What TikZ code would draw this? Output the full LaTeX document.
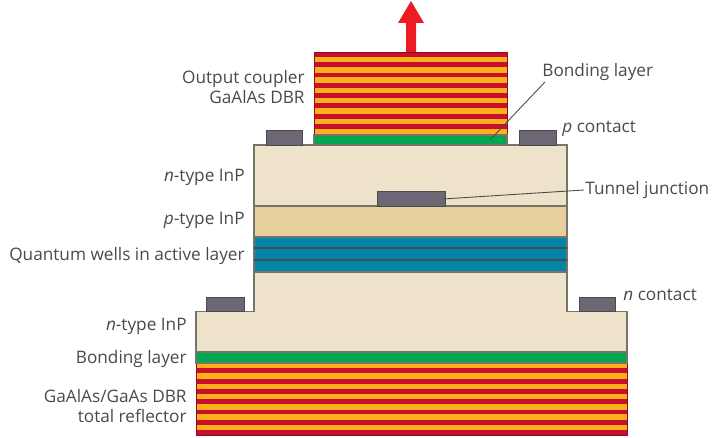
\documentclass[tikz,border=0pt]{standalone}
\usepackage{fontspec}
\setmainfont{Open Sans}
\usepackage{xcolor}
\definecolor{C0}{HTML}{FDB018}
\definecolor{C1}{HTML}{C8102E}
\definecolor{C2}{HTML}{00A651}
\definecolor{C3}{HTML}{0085A8}
\definecolor{C4}{HTML}{EEE2CB}
\definecolor{C5}{HTML}{E5CF9B}
\definecolor{C6}{HTML}{6D6674}
\definecolor{C7}{HTML}{77746A}
\definecolor{C8}{HTML}{4A4A4A}
\definecolor{C9}{HTML}{ED1C24}
\tikzset{
  layer/.style={draw=C7, line width=0.6pt},
  contact/.style={fill=C6, draw=C8, line width=0.5pt},
  lbl/.style={text=C8, font=\fontsize{9.8}{11.2}\selectfont, inner sep=0pt},
  leader/.style={C8, line width=0.5pt}
}
\begin{document}
\begin{tikzpicture}[x=0.02cm,y=-0.02cm]
\useasboundingbox (0,0) rectangle (720,438);
% output beam
\fill[C9] (406,52)--(406,23)--(398,23)--(411,1)--(424,23)--(416,23)--(416,52)--cycle;
% top mirror
\fill[C0] (314,52) rectangle (507,135);
\foreach \y in {52,62.3,...,130} \fill[C1] (314,\y) rectangle (507,\y+4.8);
\fill[C2] (314,135) rectangle (507,145);
\draw[C1!70!black, line width=0.5pt] (314,52) rectangle (507,135);
\draw[layer] (314,135) rectangle (507,145);
% middle layers
\draw[layer, fill=C4] (254,145) rectangle (567,206);
\draw[layer, fill=C5] (254,206) rectangle (567,237);
\draw[layer, fill=C3] (254,237) rectangle (567,272);
\draw[C8, line width=0.8pt] (254,248)--(567,248);
\draw[C8, line width=0.8pt] (254,260)--(567,260);
% lower n-type block
\draw[layer, fill=C4] (196,352)--(196,311.5)--(254,311.5)--(254,272)--(567,272)--(567,311.5)--(627,311.5)--(627,352)--cycle;
% bottom mirror
\fill[C2] (196,352) rectangle (627,363);
\fill[C0] (196,363) rectangle (627,435);
\foreach \y in {368.5,378.8,...,431} \fill[C1] (196,\y) rectangle (627,\y+4.8);
\draw[C1!70!black, line width=0.5pt] (196,363) rectangle (627,435);
\draw[layer] (196,352) rectangle (627,363);
% contacts
\draw[contact] (266,130) rectangle (302,145);
\draw[contact] (519,130) rectangle (556,145);
\draw[contact] (377,191) rectangle (445,206);
\draw[contact] (206,297) rectangle (244,311.5);
\draw[contact] (579,297) rectangle (615,311.5);
% labels
\node[lbl, anchor=east, align=right] (coupler) at (305,87) {Output coupler\\GaAlAs DBR};
\node[lbl, anchor=east] (ninp) at (245,177) {\textit{n}-type InP};
\node[lbl, anchor=east] (pinp) at (245,220) {\textit{p}-type InP};
\node[lbl, anchor=east] (wells) at (245,256) {Quantum wells in active layer};
\node[lbl, anchor=east] (ninplow) at (187,326) {\textit{n}-type InP};
\node[lbl, anchor=east] (bondlow) at (187,359) {Bonding layer};
\node[lbl, anchor=east, align=right] (reflector) at (187,406) {GaAlAs/GaAs DBR\\total reflector};
\node[lbl, anchor=west] (bondtop) at (542,72) {Bonding layer};
\node[lbl, anchor=west] (pcontact) at (562,129) {\textit{p} contact};
\node[lbl, anchor=west] (tunnel) at (585,190) {Tunnel junction};
\node[lbl, anchor=west] (ncontact) at (623,295) {\textit{n} contact};
% leaders
\coordinate (bondend) at (490,140);
\coordinate (tunnelend) at (443,199);
\draw[leader] (bondtop.south west)++(3,1)--(bondend);
\draw[leader] (tunnel.west)++(-1,0)--(tunnelend);
\end{tikzpicture}
\end{document}
